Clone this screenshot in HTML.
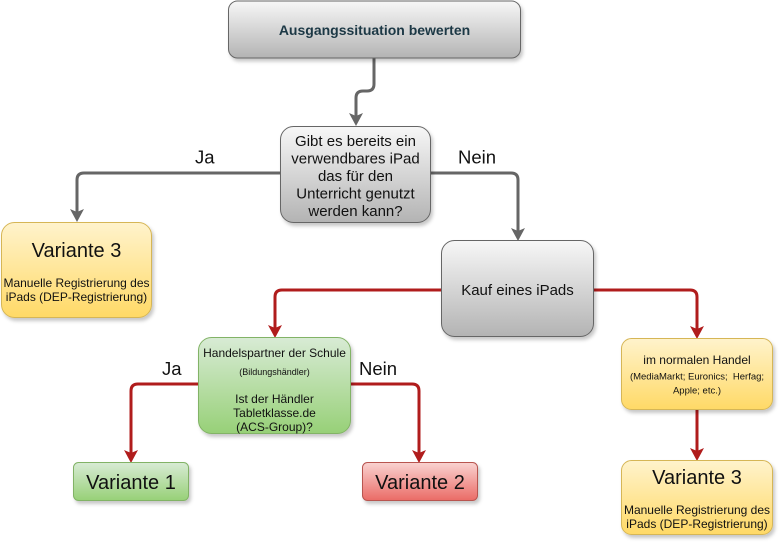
<!DOCTYPE html>
<html><head><meta charset="utf-8"><style>
html,body{margin:0;padding:0;background:#fff;}
svg{display:block;}
text{font-family:"Liberation Sans",Arial,sans-serif;fill:#111;}
</style></head><body>
<svg width="783" height="547" viewBox="0 0 783 547" xmlns="http://www.w3.org/2000/svg">
<defs>
<linearGradient id="gGray" x1="0" y1="0" x2="0" y2="1"><stop offset="0" stop-color="#f7f7f7"/><stop offset="1" stop-color="#b3b3b3"/></linearGradient>
<linearGradient id="gYel" x1="0" y1="0" x2="0" y2="1"><stop offset="0" stop-color="#fff3cc"/><stop offset="1" stop-color="#ffd966"/></linearGradient>
<linearGradient id="gGrn" x1="0" y1="0" x2="0" y2="1"><stop offset="0" stop-color="#d8ebd5"/><stop offset="1" stop-color="#97d077"/></linearGradient>
<linearGradient id="gRed" x1="0" y1="0" x2="0" y2="1"><stop offset="0" stop-color="#f9d3d1"/><stop offset="1" stop-color="#ea6b66"/></linearGradient>
<filter id="sh" x="-10%" y="-10%" width="130%" height="140%"><feDropShadow dx="2" dy="3" stdDeviation="1.8" flood-color="#000" flood-opacity="0.22"/></filter>
</defs>

<!-- connectors gray -->
<g fill="none" stroke="#666" stroke-width="3">
<path d="M374,58 L374,84 Q374,91 367,91 L363,91 Q356,91 356,98 L356,116"/>
<path d="M280,173 L84,173 Q77,173 77,180 L77,212"/>
<path d="M431,173 L511,173 Q518,173 518,180 L518,231"/>
</g>
<g fill="#666">
<polygon points="356,126 349,113 356,116 363,113"/>
<polygon points="77,222 70,209 77,212 84,209"/>
<polygon points="518,241 511,228 518,231 525,228"/>
</g>

<!-- connectors red -->
<g fill="none" stroke="#b01c1c" stroke-width="3">
<path d="M441,290 L282,290 Q275,290 275,297 L275,328"/>
<path d="M594,290 L690,290 Q697,290 697,297 L697,329"/>
<path d="M697,410 L697,451"/>
<path d="M198,384 L138,384 Q131,384 131,391 L131,453"/>
<path d="M351,384 L412,384 Q419,384 419,391 L419,453"/>
</g>
<g fill="#b01c1c">
<polygon points="275,338 268,325 275,328 282,325"/>
<polygon points="697,339 690,326 697,329 704,326"/>
<polygon points="697,461 690,448 697,451 704,448"/>
<polygon points="131,463 124,450 131,453 138,450"/>
<polygon points="419,463 412,450 419,453 426,450"/>
</g>

<!-- boxes -->
<g filter="url(#sh)">
<rect x="228.5" y="1" width="292" height="57" rx="9" fill="url(#gGray)" stroke="#666" stroke-width="1"/>
<rect x="280.5" y="126.5" width="150" height="96" rx="13" fill="url(#gGray)" stroke="#666" stroke-width="1"/>
<rect x="1.5" y="222.5" width="150" height="95" rx="13" fill="url(#gYel)" stroke="#d6b656" stroke-width="1"/>
<rect x="441.5" y="240.5" width="152" height="96" rx="13" fill="url(#gGray)" stroke="#666" stroke-width="1"/>
<rect x="198.5" y="337.5" width="152" height="96" rx="13" fill="url(#gGrn)" stroke="#82b366" stroke-width="1"/>
<rect x="621.5" y="338.5" width="151" height="71" rx="10" fill="url(#gYel)" stroke="#d6b656" stroke-width="1"/>
<rect x="621.5" y="460.5" width="151" height="74" rx="10" fill="url(#gYel)" stroke="#d6b656" stroke-width="1"/>
<rect x="73.5" y="462.5" width="115" height="38" rx="5" fill="url(#gGrn)" stroke="#82b366" stroke-width="1"/>
<rect x="362.5" y="462.5" width="115" height="38" rx="5" fill="url(#gRed)" stroke="#b85450" stroke-width="1"/>
</g>

<!-- texts -->
<text x="374.5" y="35" font-size="14" font-weight="bold" text-anchor="middle" style="fill:#1c3845">Ausgangssituation bewerten</text>

<g font-size="15" text-anchor="middle">
<text x="355.5" y="146">Gibt es bereits ein</text>
<text x="355.5" y="163.5">verwendbares iPad</text>
<text x="355.5" y="181">das für den</text>
<text x="355.5" y="198.5">Unterricht genutzt</text>
<text x="355.5" y="216">werden kann?</text>
</g>

<text x="195" y="163.5" font-size="18.5">Ja</text>
<text x="458" y="163.5" font-size="18.5">Nein</text>

<text x="76.5" y="257" font-size="20" text-anchor="middle">Variante 3</text>
<text x="76.5" y="287" font-size="12" text-anchor="middle">Manuelle Registrierung des</text>
<text x="76.5" y="301" font-size="12" text-anchor="middle">iPads (DEP-Registrierung)</text>

<text x="517.5" y="295" font-size="15" text-anchor="middle">Kauf eines iPads</text>

<text x="274.5" y="357" font-size="12" text-anchor="middle">Handelspartner der Schule</text>
<text x="274.5" y="375" font-size="9" text-anchor="middle">(Bildungshändler)</text>
<text x="274.5" y="403" font-size="12" text-anchor="middle">Ist der Händler</text>
<text x="274.5" y="417" font-size="12" text-anchor="middle">Tabletklasse.de</text>
<text x="274.5" y="431" font-size="12" text-anchor="middle">(ACS-Group)?</text>

<text x="162" y="375" font-size="18.5">Ja</text>
<text x="359" y="375" font-size="18.5">Nein</text>

<text x="697" y="364" font-size="12" text-anchor="middle">im normalen Handel</text>
<text x="697" y="379.5" font-size="9.5" text-anchor="middle">(MediaMarkt; Euronics;&#160; Herfag;</text>
<text x="697" y="393.5" font-size="9.5" text-anchor="middle">Apple; etc.)</text>

<text x="697" y="484" font-size="20" text-anchor="middle">Variante 3</text>
<text x="697" y="514" font-size="12" text-anchor="middle">Manuelle Registrierung des</text>
<text x="697" y="528" font-size="12" text-anchor="middle">iPads (DEP-Registrierung)</text>

<text x="131" y="489" font-size="20" text-anchor="middle">Variante 1</text>
<text x="420" y="489" font-size="20" text-anchor="middle">Variante 2</text>
</svg>
</body></html>
